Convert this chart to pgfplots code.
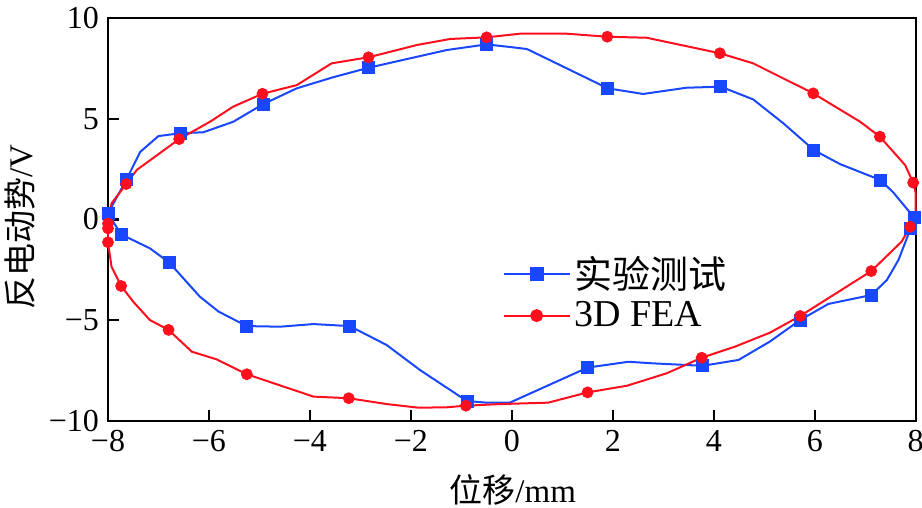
\documentclass[border=0pt]{standalone}
\usepackage{fontspec}
\setmainfont{Liberation Serif}
\newfontfamily\cjk{Noto Sans CJK SC}
\usepackage{pgfplots}
\pgfplotsset{compat=1.18}
\definecolor{expblue}{RGB}{25,70,255}
\definecolor{feared}{RGB}{255,15,30}
\begin{document}
\begin{tikzpicture}
\begin{axis}[
  scale only axis,
  width=403.85pt, height=201.5pt,
  xmin=-8, xmax=8, ymin=-10, ymax=10,
  xtick={-8,-6,-4,-2,0,2,4,6,8},
  xticklabels={−8,−6,−4,−2,0,2,4,6,8},
  ytick={-10,-5,0,5,10},
  yticklabels={−10,−5,0,5,10},
  xtick pos=left, ytick pos=left,
  tick align=inside,
  major tick length=5.5pt,
  axis line style={line width=1.2pt},
  every tick/.style={line width=1.2pt, black},
  tick label style={font=\fontsize{16}{19}\selectfont},
  xticklabel style={yshift=-1pt},
  yticklabel style={xshift=-1pt},
  xlabel={{\cjk 位移}/mm},
  ylabel={{\cjk 反电动势}/V},
  label style={font=\fontsize{16.5}{19}\selectfont},
  xlabel style={at={(axis description cs:0.501,-0.171)}, anchor=center},
  ylabel style={at={(axis description cs:-0.109,0.481)}, anchor=center, rotate=0},
  legend style={draw=none, fill=none, at={(axis cs:-0.19,-3.65)}, anchor=west,
    font=\fontsize{19}{22}\selectfont, inner sep=0pt, row sep=1pt},
  legend cell align=left,
  legend image code/.code={\draw[mark repeat=2,mark phase=2,#1] plot coordinates {(0pt,0pt)(16.5pt,0pt)(33pt,0pt)};},
  clip=false,
]
\coordinate (bl) at (rel axis cs:0,0);
\addlegendimage{expblue, line width=1pt, mark=square*, mark size=3pt}
\addlegendentry{\cjk 实验测试}
\addlegendimage{feared, line width=1pt, mark=*, mark size=2.75pt}
\addlegendentry{3D FEA}
% experiment line
\addplot[expblue, line width=1pt, forget plot] coordinates {
(-8,0.3) (-7.63,2.0) (-7.36,3.36) (-7.0,4.14) (-6.57,4.28) (-6.11,4.33) (-5.52,4.85)
(-4.93,5.72) (-4.26,6.51) (-3.54,7.06) (-2.84,7.53) (-1.29,8.41) (-0.5,8.69)
(0.0,8.55) (0.30,8.46) (1.9,6.51) (2.60,6.23) (3.46,6.54) (4.14,6.59) (4.78,5.96)
(5.38,4.77) (5.98,3.45) (6.50,2.75) (7.30,1.96) (7.56,1.33) (7.97,0.09) (7.90,-0.44)
(7.66,-2.0) (7.43,-3.0) (7.12,-3.75) (6.27,-4.19) (5.71,-4.99) (5.11,-6.06) (4.49,-6.97)
(3.78,-7.26) (2.80,-7.14) (2.31,-7.06) (1.50,-7.35) (-0.04,-9.09) (-0.50,-9.09)
(-0.89,-9.01) (-1.82,-7.47) (-2.48,-6.23) (-3.21,-5.29) (-3.93,-5.19) (-4.59,-5.32)
(-5.25,-5.29) (-5.81,-4.57) (-6.18,-3.83) (-6.79,-2.13) (-7.17,-1.43) (-7.74,-0.74)
(-8,0.3)
};
% FEA line
\addplot[feared, line width=1pt, forget plot] coordinates {
(-8,-0.2) (-7.93,0.8) (-7.64,1.76) (-7.43,2.46) (-6.59,3.99) (-5.98,4.85) (-5.52,5.60)
(-4.94,6.24) (-4.26,6.67) (-3.57,7.75) (-2.84,8.05) (-1.88,8.66) (-1.22,8.96)
(-0.50,9.04) (0.16,9.22) (1.09,9.22) (1.89,9.07) (2.67,9.02) (4.12,8.25) (4.78,7.75)
(5.97,6.26) (6.90,4.85) (7.29,4.11) (7.79,2.70) (7.95,1.83) (8.0,1.30) (8.0,0.0)
(7.89,-0.36) (7.72,-1.1) (7.12,-2.56) (5.71,-4.79) (5.11,-5.62) (4.42,-6.31)
(3.76,-6.86) (3.07,-7.63) (2.28,-8.25) (1.50,-8.58) (0.72,-9.09) (-0.23,-9.16)
(-0.91,-9.24) (-1.29,-9.32) (-1.85,-9.34) (-2.48,-9.16) (-3.23,-8.87) (-3.93,-8.79)
(-5.25,-7.68) (-5.85,-6.94) (-6.34,-6.56) (-6.80,-5.48) (-7.17,-4.99) (-7.50,-4.08)
(-7.74,-3.30) (-7.93,-2.34) (-8,-1.13) (-8,-0.44) (-8,-0.2)
};
% experiment markers
\addplot[expblue, only marks, mark=square*, mark size=3pt, forget plot] coordinates {
(-8,0.3) (-7.63,2.0) (-6.57,4.28) (-4.93,5.72) (-2.84,7.53) (-0.5,8.69) (1.9,6.51)
(4.14,6.59) (5.98,3.45) (7.30,1.96) (7.97,0.09) (7.90,-0.44) (7.12,-3.75) (5.71,-4.99)
(3.78,-7.26) (1.50,-7.35) (-0.89,-9.01) (-3.21,-5.29) (-5.25,-5.29) (-6.79,-2.13)
(-7.74,-0.74)
};
% FEA markers
\addplot[feared, only marks, mark=*, mark size=2.75pt, forget plot] coordinates {
(-8,-0.2) (-8,-0.44) (-8,-1.13) (-7.64,1.76) (-6.59,3.99) (-4.94,6.24) (-2.84,8.05)
(-0.50,9.04) (1.89,9.07) (4.12,8.25) (5.97,6.26) (7.29,4.11) (7.95,1.83) (7.89,-0.36)
(7.12,-2.56) (5.71,-4.79) (3.76,-6.86) (1.50,-8.58) (-0.91,-9.24) (-3.23,-8.87)
(-5.25,-7.68) (-6.80,-5.48) (-7.74,-3.30)
};
\end{axis}
\pgfresetboundingbox
\path[use as bounding box] (bl) ++(-54pt,-43.5pt) rectangle ++(461pt,254pt);
\end{tikzpicture}
\end{document}
